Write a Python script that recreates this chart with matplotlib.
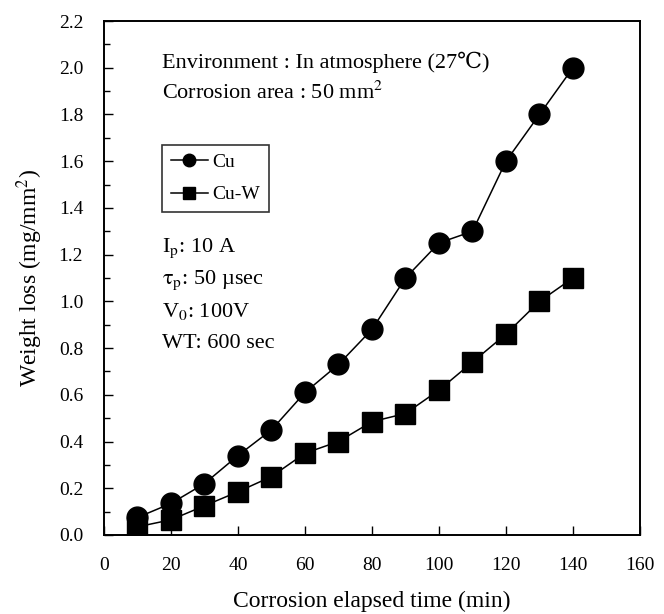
import numpy as np
import matplotlib.pyplot as plt
from matplotlib.ticker import MultipleLocator

plt.rcParams['font.family'] = ['Liberation Serif', 'DejaVu Serif']
plt.rcParams['mathtext.fontset'] = 'stix'

time_min = [10, 20, 30, 40, 50, 60, 70, 80, 90, 100, 110, 120, 130, 140]
cu_loss = [0.075, 0.135, 0.22, 0.34, 0.45, 0.61, 0.73, 0.88, 1.10, 1.25, 1.30, 1.60, 1.80, 2.00]
cuw_loss = [0.035, 0.065, 0.125, 0.185, 0.25, 0.35, 0.40, 0.485, 0.52, 0.62, 0.74, 0.86, 1.00, 1.10]

fig = plt.figure(figsize=(6.64, 6.14), dpi=100)
ax = fig.add_axes([0.1566, 0.1287, 0.8072, 0.837])

ax.plot(time_min, cu_loss, 'k-', marker='o', markersize=15, linewidth=1.1, label='Cu')
ax.plot(time_min, cuw_loss, 'k-', marker='s', markersize=14, linewidth=1.1, label='Cu-W')

ax.set_xlim(0, 160)
ax.set_ylim(0, 2.2)
ax.xaxis.set_major_locator(MultipleLocator(20))
ax.yaxis.set_major_locator(MultipleLocator(0.2))
ax.yaxis.set_minor_locator(MultipleLocator(0.1))
ax.yaxis.set_major_formatter(plt.FormatStrFormatter('%.1f'))
ax.tick_params(direction='in', labelsize=14, length=6.5, width=1.0)
ax.tick_params(axis='y', pad=15)
ax.tick_params(axis='x', pad=16)
ax.tick_params(which='minor', direction='in', length=4.5, width=1.0)
for sp in ax.spines.values():
    sp.set_linewidth(1.4)

ax.set_xlabel('Corrosion elapsed time (min)', fontsize=17)
ax.xaxis.set_label_coords(0.5, -0.108)
ax.set_ylabel('Weight loss (mg/mm$^2$)', fontsize=17, labelpad=10)

ax.text(0.108, 0.920, 'Environment : In atmosphere (27\u2103)', transform=ax.transAxes,
        fontsize=16, va='center')
ax.text(0.108, 0.860, 'Corrosion area : 50 mm$^2$', transform=ax.transAxes,
        fontsize=16, va='center')

params = ['I$_\\mathrm{p}$: 10 A', '$\\mathrm{\\tau}_\\mathrm{p}$: 50 \u00b5sec', 'V$_0$: 100V', 'WT: 600 sec']
for i, s in enumerate(params):
    ax.text(0.108, 0.558 - i * 0.062, s, transform=ax.transAxes, fontsize=16, va='center')

leg = ax.legend(loc='upper left', bbox_to_anchor=(0.108, 0.759), borderaxespad=0,
                fontsize=14, markerscale=0.6, handlelength=1.9, handletextpad=0.25,
                frameon=True, fancybox=False, edgecolor='black', borderpad=0.45,
                labelspacing=0.75)
leg.get_frame().set_linewidth(1.2)

fig.savefig('out.png', dpi=100)
